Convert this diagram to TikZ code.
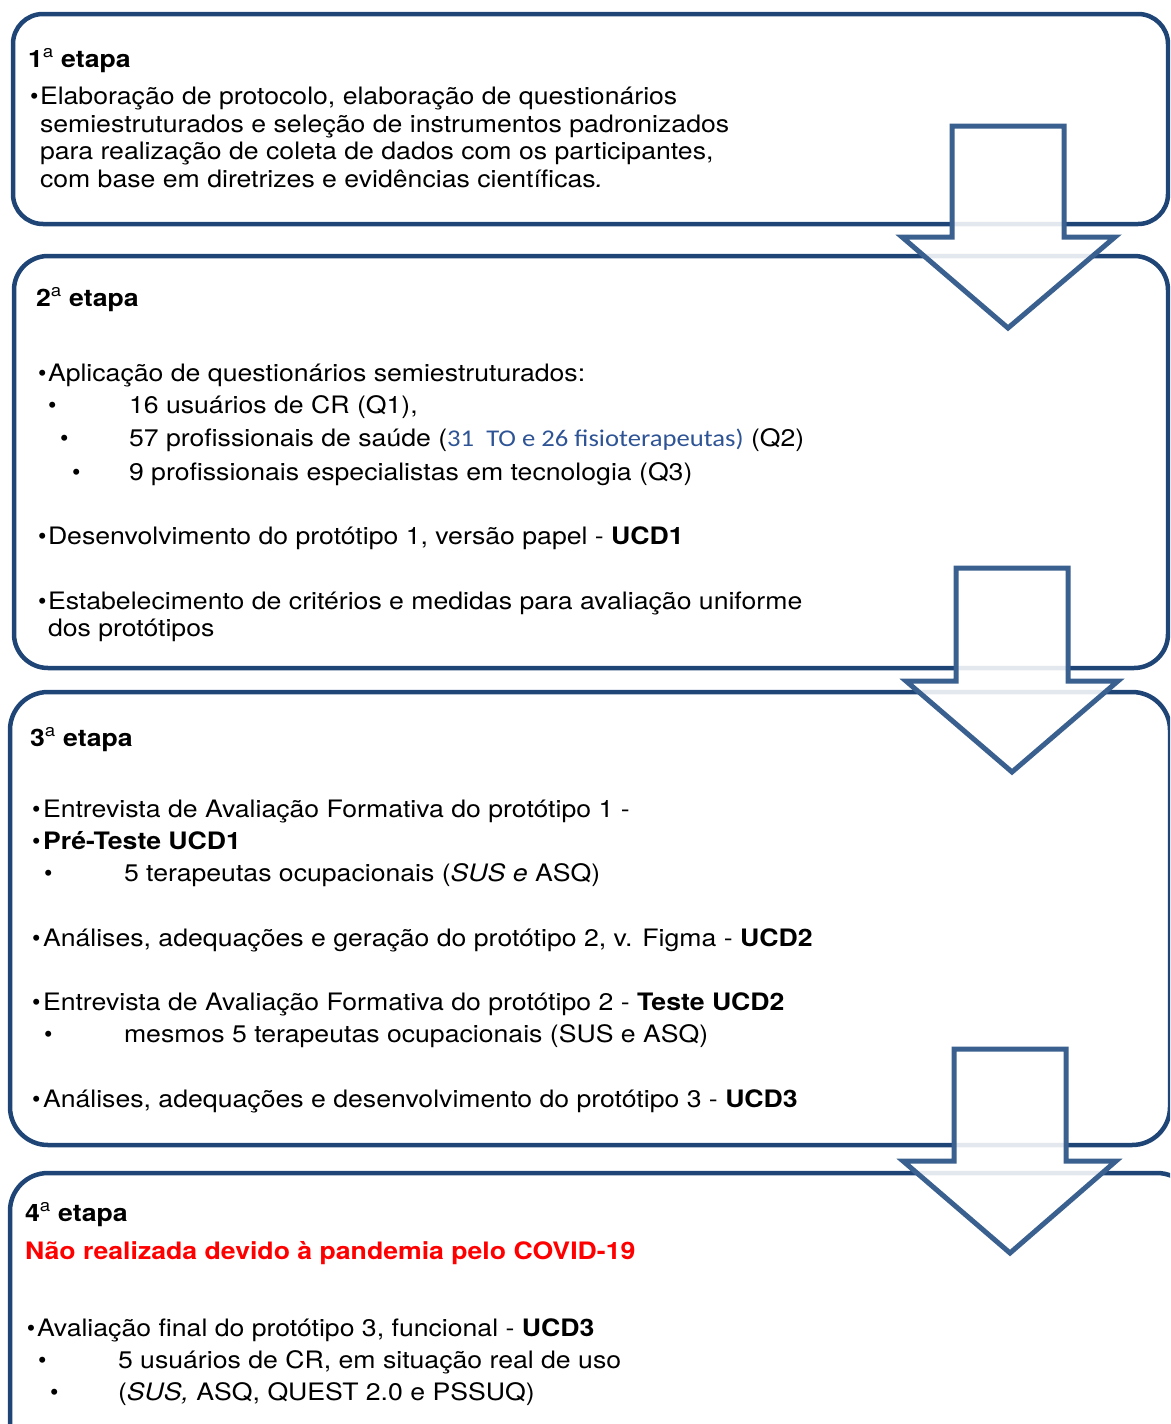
\documentclass[tikz,border=0pt]{standalone}
\usepackage{fontspec}
\setmainfont{TeX Gyre Heros}
\newfontfamily\calib{Carlito}
\definecolor{boxline}{RGB}{31,68,118}
\definecolor{arrline}{RGB}{58,96,143}
\definecolor{bluetxt}{RGB}{46,84,150}
\definecolor{redtxt}{RGB}{255,0,0}
\newcommand{\ord}{\textsuperscript{\normalfont a}}
\newcommand{\hs}[1]{\scalebox{1.11}[1]{#1}}
\begin{document}
\begin{tikzpicture}[x=1pt,y=-1pt,
  stage/.style={draw=boxline,line width=4.5pt},
  blockarrow/.style={draw=arrline,line width=5pt,fill=white,fill opacity=0.88,line join=miter},
  txt/.style={anchor=base west,inner sep=0pt,outer sep=0pt,font=\fontsize{24}{28}\selectfont},
  head/.style={txt,font=\fontsize{24}{28}\selectfont\bfseries},
]
\useasboundingbox (0,0) rectangle (1170,1424);
\clip (0,0) rectangle (1170,1424);
% stage boxes
\draw[stage,rounded corners=30pt] (13,14) rectangle (1168,224);
\draw[stage,rounded corners=34pt] (14,256) rectangle (1168,668);
\draw[stage,rounded corners=38pt] (10,692) rectangle (1170,1145);
\draw[stage,rounded corners=38pt] (10,1173) rectangle (1195,1460);
% block arrows
\draw[blockarrow] (952,126) -- (1064,126) -- (1064,237) -- (1115,237) -- (1008,328) -- (902,237) -- (952,237) -- cycle;
\draw[blockarrow] (956,568) -- (1068,568) -- (1068,681) -- (1118,681) -- (1012,772) -- (906,681) -- (956,681) -- cycle;
\draw[blockarrow] (954,1049) -- (1066,1049) -- (1066,1161) -- (1116,1161) -- (1010,1253) -- (903,1161) -- (954,1161) -- cycle;
% stage 1
\node[head] (h1) at (28,67) {\hs{1\ord{} etapa}};
\node[txt] (b1) at (30,104) {•};
\node[txt] (t1a) at (40,104) {\hs{Elaboração de protocolo, elaboração de questionários}};
\node[txt] (t1b) at (40,132) {\hs{semiestruturados e seleção de instrumentos padronizados}};
\node[txt] (t1c) at (40,159) {\hs{para realização de coleta de dados com os participantes,}};
\node[txt] (t1d) at (40,187) {\hs{com base em diretrizes e evidências científicas\textit{.}}};
% stage 2
\node[head] (h2) at (36,306) {\hs{2\ord{} etapa}};
\node[txt] (b2a) at (38,381) {•};
\node[txt] (t2a) at (48,381) {\hs{Aplicação de questionários semiestruturados:}};
\node[txt] (b2b) at (48,413) {•};
\node[txt] (t2b) at (129,413) {\hs{16 usuários de CR (Q1),}};
\node[txt] (b2c) at (60,446) {•};
\node[txt] (t2c) at (129,446) {\hs{57 profissionais de saúde ({\calib\color{bluetxt}31~ TO e 26 fisioterapeutas)} (Q2)}};
\node[txt] (b2d) at (72,480) {•};
\node[txt] (t2d) at (129,480) {\hs{9 profissionais especialistas em tecnologia (Q3)}};
\node[txt] (b2e) at (38,544) {•};
\node[txt] (t2e) at (48,544) {\hs{Desenvolvimento do protótipo 1, versão papel - \textbf{UCD1}}};
\node[txt] (b2f) at (38,609) {•};
\node[txt] (t2f) at (48,609) {\hs{Estabelecimento de critérios e medidas para avaliação uniforme}};
\node[txt] (t2g) at (48,636) {\hs{dos protótipos}};
% stage 3
\node[head] (h3) at (30,746) {\hs{3\ord{} etapa}};
\node[txt] (b3a) at (32,817) {•};
\node[txt] (t3a) at (43,817) {\hs{Entrevista de Avaliação Formativa do protótipo 1 -}};
\node[txt] (b3b) at (32,849) {•};
\node[txt] (t3b) at (43,849) {\hs{\textbf{Pré-Teste UCD1}}};
\node[txt] (b3c) at (44,881) {•};
\node[txt] (t3c) at (124,881) {\hs{5 terapeutas ocupacionais (\textit{SUS e} ASQ)}};
\node[txt] (b3d) at (32,946) {•};
\node[txt] (t3d) at (43,946) {\hs{Análises, adequações e geração do protótipo 2, v. Figma - \textbf{UCD2}}};
\node[txt] (b3e) at (32,1010) {•};
\node[txt] (t3e) at (43,1010) {\hs{Entrevista de Avaliação Formativa do protótipo 2 - \textbf{Teste UCD2}}};
\node[txt] (b3f) at (44,1042) {•};
\node[txt] (t3f) at (124,1042) {\hs{mesmos 5 terapeutas ocupacionais (SUS e ASQ)}};
\node[txt] (b3g) at (32,1107) {•};
\node[txt] (t3g) at (43,1107) {\hs{Análises, adequações e desenvolvimento do protótipo 3 - \textbf{UCD3}}};
% stage 4
\node[head] (h4) at (25,1221) {\hs{4\ord{} etapa}};
\node[head,text=redtxt] (r4) at (25,1259) {\hs{Não realizada devido à pandemia pelo COVID-19}};
\node[txt] (b4a) at (27,1336) {•};
\node[txt] (t4a) at (37,1336) {\hs{Avaliação final do protótipo 3, funcional - \textbf{UCD3}}};
\node[txt] (b4b) at (38,1368) {•};
\node[txt] (t4b) at (118,1368) {\hs{5 usuários de CR, em situação real de uso}};
\node[txt] (b4c) at (50,1400) {•};
\node[txt] (t4c) at (118,1400) {\hs{(\textit{SUS,} ASQ, QUEST 2.0 e PSSUQ)}};
\end{tikzpicture}
\end{document}
